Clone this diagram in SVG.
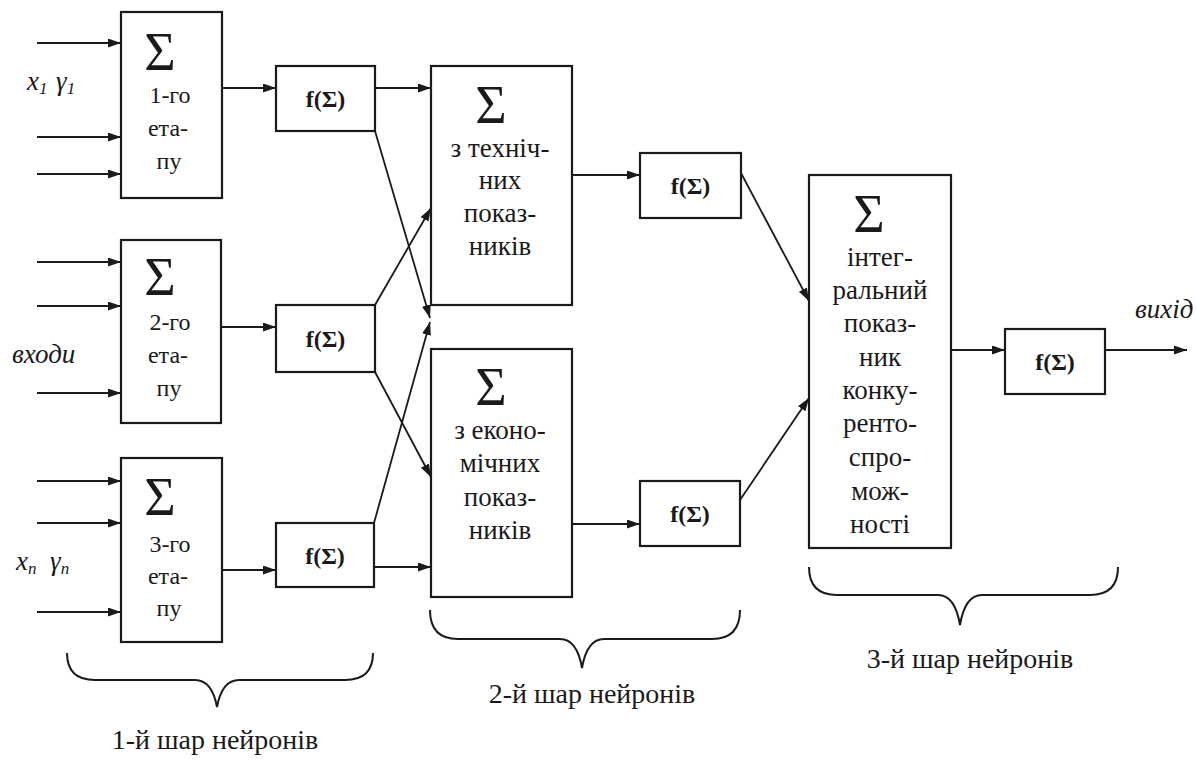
<svg xmlns="http://www.w3.org/2000/svg" width="1197" height="761" viewBox="0 0 1197 761">
<defs>
<marker id="ah" markerUnits="userSpaceOnUse" markerWidth="14" markerHeight="10" refX="13" refY="4.5" orient="auto">
<path d="M0,0 L13,4.5 L0,9 z" fill="#1a1a1a"/>
</marker>
</defs>
<style>
rect{fill:#fff;stroke:#1a1a1a;stroke-width:2.2}
text{font-family:"Liberation Serif","Times New Roman",serif;fill:#1a1a1a}
.t{font-size:24px;text-anchor:middle}
.t2{font-size:27px;text-anchor:middle}
.s{font-size:54px;text-anchor:middle}
.f{font-size:24px;font-weight:bold;text-anchor:middle}
.i{font-size:27px;font-style:italic}
.l{font-size:28px;text-anchor:middle}
.c line{stroke:#1a1a1a;stroke-width:1.8;marker-end:url(#ah)}
.b{fill:none;stroke:#1a1a1a;stroke-width:2}
</style>
<rect x="0" y="0" width="1197" height="761" style="fill:#fff;stroke:none"/>

<g id="connectors" class="c">
<line x1="37" y1="43" x2="121" y2="43"/>
<line x1="37" y1="137" x2="121" y2="137"/>
<line x1="37" y1="174" x2="121" y2="174"/>
<line x1="37" y1="262" x2="121" y2="262"/>
<line x1="37" y1="306" x2="121" y2="306"/>
<line x1="37" y1="393" x2="121" y2="393"/>
<line x1="37" y1="481" x2="121" y2="481"/>
<line x1="37" y1="523" x2="121" y2="523"/>
<line x1="37" y1="612" x2="121" y2="612"/>
<line x1="222" y1="88" x2="276" y2="88"/>
<line x1="221" y1="327" x2="276" y2="327"/>
<line x1="222" y1="570" x2="276" y2="570"/>
<line x1="375" y1="88" x2="431" y2="88"/>
<line x1="375" y1="131" x2="430" y2="318"/>
<line x1="375" y1="305" x2="431" y2="208"/>
<line x1="375" y1="372" x2="431" y2="477"/>
<line x1="374" y1="523" x2="430" y2="322"/>
<line x1="374" y1="567" x2="431" y2="567"/>
<line x1="572" y1="175" x2="640" y2="175"/>
<line x1="572" y1="524" x2="640" y2="524"/>
<line x1="741" y1="173" x2="809" y2="301"/>
<line x1="740" y1="500" x2="809" y2="398"/>
<line x1="951" y1="350" x2="1005" y2="350"/>
<line x1="1105" y1="350" x2="1187" y2="350"/>
</g>

<g id="stage1">
<rect x="121" y="12" width="101" height="186"/>
<text class="s" x="160" y="70">Σ</text>
<text class="t" x="170" y="103">1-го</text>
<text class="t" x="168" y="136">ета-</text>
<text class="t" x="169" y="169">пу</text>
</g>
<g id="stage2">
<rect x="121" y="240" width="100" height="183"/>
<text class="s" x="160" y="295">Σ</text>
<text class="t" x="170" y="330">2-го</text>
<text class="t" x="168" y="363">ета-</text>
<text class="t" x="169" y="396">пу</text>
</g>
<g id="stage3">
<rect x="121" y="458" width="101" height="184"/>
<text class="s" x="160" y="515">Σ</text>
<text class="t" x="170" y="552">3-го</text>
<text class="t" x="168" y="584">ета-</text>
<text class="t" x="169" y="616">пу</text>
</g>

<g id="f1"><rect x="276" y="66" width="99" height="65"/><text class="f" x="325.5" y="107">f(Σ)</text></g>
<g id="f2"><rect x="276" y="305" width="99" height="67"/><text class="f" x="325.5" y="347">f(Σ)</text></g>
<g id="f3"><rect x="276" y="523" width="98" height="64"/><text class="f" x="325" y="564">f(Σ)</text></g>

<g id="tech">
<rect x="431" y="66" width="141" height="239"/>
<text class="s" x="491" y="123">Σ</text>
<text class="t2" x="500" y="157">з техніч-</text>
<text class="t2" x="500" y="189">них</text>
<text class="t2" x="500" y="222">показ-</text>
<text class="t2" x="500" y="255">ників</text>
</g>
<g id="econ">
<rect x="431" y="349" width="141" height="248"/>
<text class="s" x="491" y="405">Σ</text>
<text class="t2" x="500" y="439">з еконо-</text>
<text class="t2" x="500" y="472">мічних</text>
<text class="t2" x="500" y="506">показ-</text>
<text class="t2" x="500" y="539">ників</text>
</g>

<g id="ftech"><rect x="640" y="153" width="101" height="65"/><text class="f" x="690.5" y="194">f(Σ)</text></g>
<g id="fecon"><rect x="640" y="481" width="100" height="65"/><text class="f" x="690" y="522">f(Σ)</text></g>

<g id="integral">
<rect x="809" y="175" width="142" height="373"/>
<text class="s" x="869" y="232">Σ</text>
<text class="t2" x="880" y="266">інтег-</text>
<text class="t2" x="880" y="299">ральний</text>
<text class="t2" x="880" y="332">показ-</text>
<text class="t2" x="880" y="366">ник</text>
<text class="t2" x="880" y="399">конку-</text>
<text class="t2" x="880" y="432">ренто-</text>
<text class="t2" x="880" y="466">спро-</text>
<text class="t2" x="880" y="500">мож-</text>
<text class="t2" x="880" y="533">ності</text>
</g>

<g id="fout"><rect x="1005" y="329" width="100" height="65"/><text class="f" x="1055" y="370">f(Σ)</text></g>

<g id="input-labels">
<text class="i" x="27" y="90">x<tspan font-size="17" dy="4">1</tspan><tspan x="56" y="90">γ</tspan><tspan font-size="17" dy="4">1</tspan></text>
<text class="i" x="12" y="363">входи</text>
<text class="i" x="16" y="570">x<tspan font-size="17" dy="4">n</tspan><tspan x="50" y="570">γ</tspan><tspan font-size="17" dy="4">n</tspan></text>
<text class="i" x="1135" y="318">вихід</text>
</g>

<g id="layer1">
<path class="b" d="M67,653 Q67,680 95,680 L195,680 Q212,680 217,707 Q222,680 239,680 L345,680 Q373,680 373,653"/>
<text class="l" x="215" y="749">1-й шар нейронів</text>
</g>
<g id="layer2">
<path class="b" d="M430,610 Q430,639 458,639 L560,639 Q577,639 582,668 Q587,639 604,639 L712,639 Q740,639 740,610"/>
<text class="l" x="592" y="703">2-й шар нейронів</text>
</g>
<g id="layer3">
<path class="b" d="M809,567 Q809,595 837,595 L938,595 Q955,595 960,625 Q965,595 982,595 L1090,595 Q1118,595 1118,567"/>
<text class="l" x="970" y="668">3-й шар нейронів</text>
</g>
</svg>
